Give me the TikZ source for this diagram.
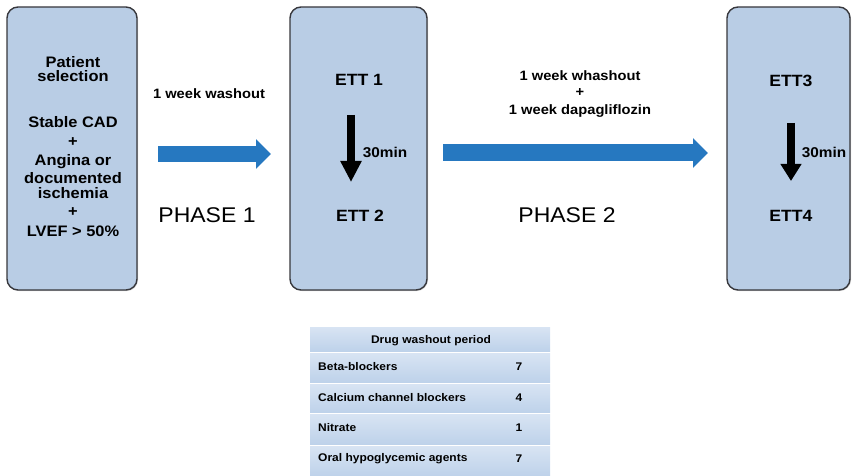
\documentclass[tikz,border=0pt]{standalone}
\usepackage{fontspec}
\setmainfont{Liberation Sans}[FakeStretch=1.08]
\usetikzlibrary{arrows.meta,shadows}

\definecolor{boxfill}{RGB}{185,205,229}
\definecolor{boxline}{RGB}{55,55,60}
\definecolor{flowblue}{RGB}{38,120,192}
\definecolor{rowtop}{RGB}{216,228,243}
\definecolor{rowbot}{RGB}{190,210,234}

\tikzset{
  stagebox/.style={draw=boxline, line width=1.4pt, fill=boxfill, rounded corners=11pt,
    drop shadow={shadow xshift=1pt, shadow yshift=-1pt, opacity=0.35}},
  boxtxt/.style={inner sep=0pt, font=\fontsize{15.2}{17}\selectfont\bfseries},
  etttxt/.style={inner sep=0pt, font=\fontsize{16.3}{18}\selectfont\bfseries},
  mintxt/.style={inner sep=0pt, font=\fontsize{14.2}{16}\selectfont\bfseries},
  steptxt/.style={inner sep=0pt, font=\fontsize{13.6}{15}\selectfont\bfseries},
  phasetxt/.style={inner sep=0pt, font=\fontsize{21.3}{23}\selectfont},
  tabtxt/.style={inner sep=0pt, font=\fontsize{11.1}{13}\selectfont\bfseries},
  flowarrow/.style={draw=flowblue, line width=16pt, -{Triangle[length=15pt,width=29pt]}},
  waitarrow/.style={draw=black, line width=8.5pt, -{Triangle[length=21pt,width=20pt]}},
  tabrow/.style={top color=rowtop, bottom color=rowbot, draw=none},
}

\begin{document}
\begin{tikzpicture}[x=1pt,y=-1pt]
\useasboundingbox (0,0) rectangle (852,476);

% stage boxes
\draw[stagebox] (7,7) rectangle (137,290);
\draw[stagebox] (290,7) rectangle (427,290);
\draw[stagebox] (727,7) rectangle (850,290);

% patient selection
\node[boxtxt] (ps1) at (73,62) {Patient};
\node[boxtxt] (ps2) at (73,76) {selection};
\node[boxtxt] (cad) at (73,122) {Stable CAD};
\node[boxtxt] (pl1) at (73,142) {+};
\node[boxtxt] (ang1) at (73,162) {Angina or};
\node[boxtxt] (ang2) at (73,178) {documented};
\node[boxtxt] (ang3) at (73,193) {ischemia};
\node[boxtxt] (pl2) at (73,212) {+};
\node[boxtxt] (lvef) at (73,231) {LVEF > 50\%};

% first test pair
\node[etttxt] (ett1) at (359,80) {ETT 1};
\node[etttxt] (ett2) at (360,216) {ETT 2};
\coordinate (w1s) at (351,115);
\coordinate (w1e) at (351,182);
\draw[waitarrow] (w1s) -- (w1e);
\node[mintxt] (min1) at (385,152) {30min};

% second test pair
\node[etttxt] (ett3) at (791,81) {ETT3};
\node[etttxt] (ett4) at (791,216) {ETT4};
\coordinate (w2s) at (791,123);
\coordinate (w2e) at (791,181);
\draw[waitarrow, -{Triangle[length=17pt,width=20pt]}] (w2s) -- (w2e);
\node[mintxt] (min2) at (824,152) {30min};

% phase 1
\node[steptxt] (wash1) at (209,94) {1 week washout};
\coordinate (p1s) at (158,154);
\coordinate (p1e) at (271,154);
\draw[flowarrow] (p1s) -- (p1e);
\node[phasetxt] (ph1) at (207,215) {PHASE 1};

% phase 2
\node[steptxt] (wash2) at (580,76) {1 week whashout};
\node[steptxt] (pl3) at (580,93) {+};
\node[steptxt] (dapa) at (580,111) {1 week dapagliflozin};
\coordinate (p2s) at (443,153);
\coordinate (p2e) at (708,153);
\draw[flowarrow, line width=17pt] (p2s) -- (p2e);
\node[phasetxt] (ph2) at (567,215) {PHASE 2};

% washout table
\shade[tabrow] (310,327) rectangle (550,351);
\shade[tabrow] (310,353) rectangle (550,382);
\shade[tabrow] (310,384) rectangle (550,412);
\shade[tabrow] (310,414) rectangle (550,444);
\shade[tabrow] (310,446) rectangle (550,476);
\node[tabtxt] (thead) at (431,341) {Drug washout period};
\node[tabtxt, anchor=west] (r1) at (318,367) {Beta-blockers};
\node[tabtxt, anchor=west] (r2) at (318,398) {Calcium channel blockers};
\node[tabtxt, anchor=west] (r3) at (318,428) {Nitrate};
\node[tabtxt, anchor=west] (r4) at (318,459) {Oral hypoglycemic agents};
\node[tabtxt] (v1) at (519,367) {7};
\node[tabtxt] (v2) at (519,398) {4};
\node[tabtxt] (v3) at (519,428) {1};
\node[tabtxt] (v4) at (519,459) {7};
\end{tikzpicture}
\end{document}
